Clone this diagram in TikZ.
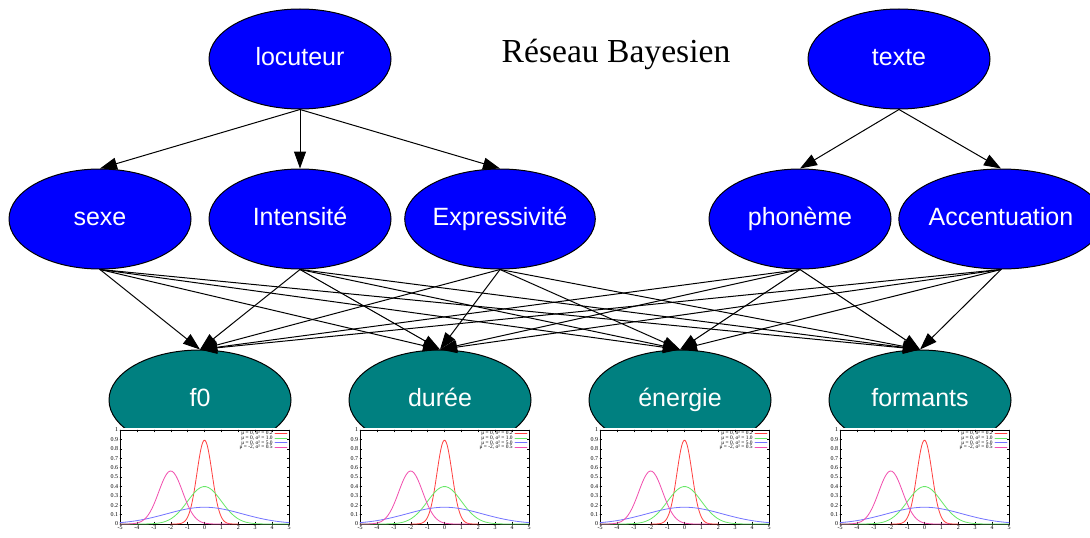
\documentclass[tikz,border=0pt]{standalone}
\usepackage{fontspec}
\setmainfont{Liberation Serif}
\setsansfont{Liberation Sans}
\usetikzlibrary{arrows.meta}
\usetikzlibrary{shapes.geometric}

\begin{document}
\begin{tikzpicture}[x=0.5pt,y=0.5pt,line cap=round,line join=round,>={Triangle[length=8.5pt,width=6pt]},
        var/.style={ellipse,draw=black,line width=0.5pt,minimum width=91pt,minimum height=50pt,inner sep=0pt,text height=9pt,text depth=2.5pt,text=white,font=\sffamily\fontsize{12.5}{15}\selectfont},
        cause/.style={var,fill=blue},
        obs/.style={var,fill=teal},
        edge/.style={->,line width=0.5pt},
        tick/.style={font=\fontsize{3}{3.5}\selectfont,inner sep=0.8pt},
        legende/.style={font=\fontsize{2.7}{3}\selectfont,inner sep=0pt,text height=1.8pt,text depth=0.3pt,anchor=east,text=black}]
        \useasboundingbox (0,0) rectangle (1090,537);
        \node[cause] (locuteur) at (300,478) {locuteur};
        \node[cause] (texte) at (899,478) {texte};
        \node[anchor=base,font=\fontsize{16.8}{20}\selectfont] (titre) at (616,474) {Réseau Bayesien};
        \node[cause] (sexe) at (100,318) {sexe};
        \node[cause] (intensite) at (300,318) {Intensité};
        \node[cause] (expressivite) at (500,318) {Expressivité};
        \node[cause] (phoneme) at (800,318) {phonème};
        \node[cause] (accentuation) at (1001,318) {Accentuation};
        \node[obs] (f0) at (200,137) {f0};
        \node[obs] (duree) at (440,137) {durée};
        \node[obs] (energie) at (680,137) {énergie};
        \node[obs] (formants) at (920,137) {formants};
        \foreach \t in {sexe,intensite,expressivite}
        \draw[edge] (locuteur.south) -- (\t.north);
        \foreach \t in {phoneme,accentuation}
        \draw[edge] (texte.south) -- (\t.north);
        \foreach \s in {sexe,intensite,expressivite,phoneme,accentuation}
        \foreach \t in {f0,duree,energie,formants}
        \draw[edge] (\s.south) -- (\t.north);
        \foreach \t in {f0,duree,energie,formants} {
          \begin{scope}[shift={(\t.center)}]
            \fill[white] (-88,-28) rectangle (92,-137);
            \begin{scope}[shift={(4.5,-124)},x=8.45pt,y=47pt]
              \draw[line width=0.25pt] (-5,0) rectangle (5,1);
              \foreach \x in {-5,-4,-3,-2,-1,0,1,2,3,4,5}
              \draw[line width=0.2pt] (\x,0) -- (\x,0.02) (\x,1) -- (\x,0.98) node[tick,below] at (\x,0) {\x};
              \foreach \y in {0,0.1,0.2,0.3,0.4,0.5,0.6,0.7,0.8,0.9,1}
              \draw[line width=0.2pt] (-5,\y) -- (-4.9,\y) (5,\y) -- (4.9,\y) node[tick,left] at (-5,\y) {\y};
              \draw[red!75,line width=0.4pt,smooth,samples=60,domain=-2:2] plot(\x,{exp(-(\x)*(\x)/0.4)/sqrt(2*pi*0.2)});
              \draw[green!85!black!60,line width=0.4pt,smooth,samples=60,domain=-5:5] plot(\x,{exp(-(\x)*(\x)/2)/sqrt(2*pi)});
              \draw[blue!55,line width=0.4pt,smooth,samples=60,domain=-5:5] plot(\x,{exp(-(\x)*(\x)/10)/sqrt(2*pi*5)});
              \draw[magenta!70,line width=0.4pt,smooth,samples=60,domain=-5:1.5] plot(\x,{exp(-(\x+2)*(\x+2))/sqrt(pi)});
              \foreach \c/\l/\yy in {red!75/{μ = 0, σ² = 0.2}/0.965,green!85!black!60/{μ = 0, σ² = 1.0}/0.915,blue!55/{μ = 0, σ² = 5.0}/0.865,magenta!70/{μ = -2, σ² = 0.5}/0.815}
              \draw[\c,line width=0.4pt] (4.17,\yy) -- (4.88,\yy) node[legende] at (4.05,\yy) {\l};
            \end{scope}
          \end{scope}
        }
      \end{tikzpicture}
\end{document}
